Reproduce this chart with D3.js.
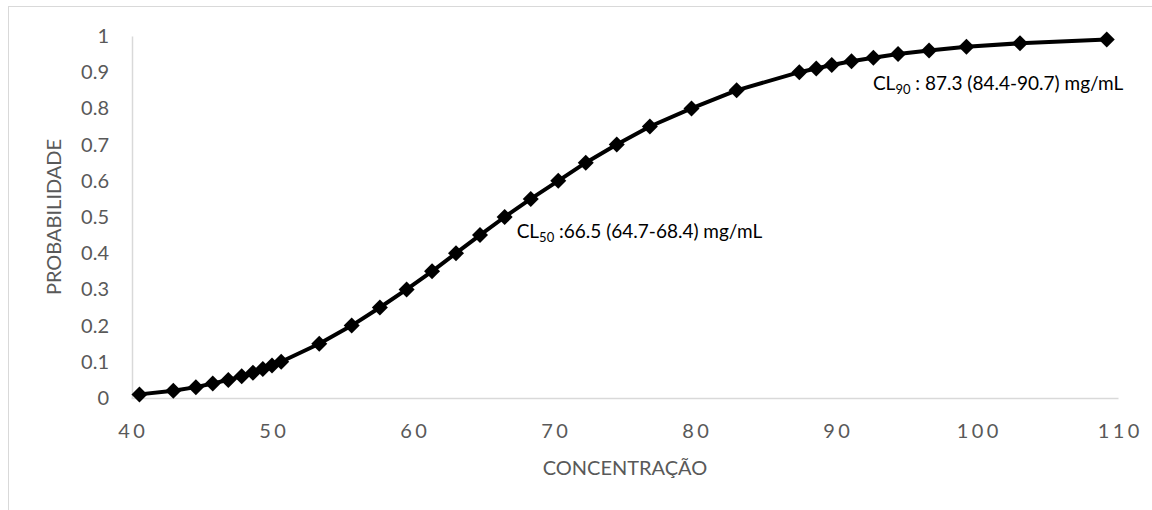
<!DOCTYPE html>
<html>
<head>
<meta charset="utf-8">
<script src="https://cdn.jsdelivr.net/npm/d3@7"></script>
<style>
  body { margin: 0; background: #fff; }
  svg { display: block; font-family: Lato, 'Open Sans', sans-serif; }
  .axis text { fill: #595959; }
</style>
</head>
<body>
<div id="content"></div>
<script>
// concentration (mg/mL) vs probability
var concentracao = [40.6, 43.0, 44.6, 45.8, 46.9, 47.85, 48.65, 49.35, 50.0, 50.65,
                    53.35, 55.65, 57.65, 59.55, 61.35, 63.05, 64.75, 66.5, 68.35, 70.3,
                    72.25, 74.45, 76.8, 79.75, 82.95,
                    87.4, 88.6, 89.7, 91.1, 92.65, 94.4, 96.6, 99.25, 103.05, 109.2];
var probabilidade = [0.01, 0.02, 0.03, 0.04, 0.05, 0.06, 0.07, 0.08, 0.09, 0.10,
                     0.15, 0.20, 0.25, 0.30, 0.35, 0.40, 0.45, 0.50, 0.55, 0.60,
                     0.65, 0.70, 0.75, 0.80, 0.85,
                     0.90, 0.91, 0.92, 0.93, 0.94, 0.95, 0.96, 0.97, 0.98, 0.99];
var xTicks = [40, 50, 60, 70, 80, 90, 100, 110];
var yTicks = [0, 0.1, 0.2, 0.3, 0.4, 0.5, 0.6, 0.7, 0.8, 0.9, 1];
var notes = [
    {base: "CL", sub: "50", rest: " :66.5 (64.7-68.4) mg/mL", cx: 66.5, cy: 0.5},
    {base: "CL", sub: "90", rest: " : 87.3 (84.4-90.7) mg/mL", cx: 87.3, cy: 0.9}
];

var data = concentracao.map(function(c, i) { return {c: c, p: probabilidade[i]}; });

var svg = d3.select("#content").append("svg").attr("width", 1152).attr("height", 510);

// chart frame
svg.append("rect")
    .attr("x", 8.5).attr("y", 6.5)
    .attr("width", 1200).attr("height", 600)
    .attr("fill", "none")
    .attr("stroke", "#d9d9d9");

var x = d3.scaleLinear().domain([40, 110]).range([131, 1118]),
    y = d3.scaleLinear().domain([0, 1]).range([398, 36]);

var fmt = function(d) { return d === 0 || d === 1 ? String(d) : d.toFixed(1); };

var gy = svg.append("g")
    .attr("class", "axis")
    .attr("transform", "translate(" + (x(40) + 1) + ",0)")
    .call(d3.axisLeft(y).tickValues(yTicks).tickSize(0).tickSizeOuter(0).tickPadding(23).tickFormat(fmt));
gy.select(".domain").attr("stroke", "#d9d9d9").attr("stroke-width", 1.5);
gy.selectAll("text").attr("font-size", 20).style("font-family", "Lato, sans-serif");

var gx = svg.append("g")
    .attr("class", "axis")
    .attr("transform", "translate(0," + y(0) + ")")
    .call(d3.axisBottom(x).tickValues(xTicks).tickSize(0).tickSizeOuter(0).tickPadding(26));
gx.select(".domain").attr("stroke", "#d9d9d9").attr("stroke-width", 1.5);
gx.selectAll("text").attr("font-size", 20).style("letter-spacing", "3.5px")
    .attr("dx", "0.09em").style("font-family", "Lato, sans-serif");

// axis titles
svg.append("text")
    .attr("transform", "translate(61," + (y(0.5)) + ") rotate(-90)")
    .attr("text-anchor", "middle")
    .attr("font-size", 20)
    .attr("fill", "#595959")
    .text("PROBABILIDADE");

svg.append("text")
    .attr("x", 625).attr("y", 475)
    .attr("text-anchor", "middle")
    .attr("font-size", 20)
    .attr("fill", "#595959")
    .text("CONCENTRAÇÃO");

// curve
var line = d3.line().x(function(d) { return x(d.c); }).y(function(d) { return y(d.p); });
svg.append("path")
    .datum(data)
    .attr("d", line)
    .attr("fill", "none")
    .attr("stroke", "#000")
    .attr("stroke-width", 4)
    .attr("stroke-linejoin", "round");

var diamond = d3.symbol().type(d3.symbolSquare).size(128);
svg.selectAll(".pt")
    .data(data)
    .enter().append("path")
    .attr("class", "pt")
    .attr("d", diamond)
    .attr("transform", function(d) { return "translate(" + x(d.c) + "," + y(d.p) + ") rotate(45)"; })
    .attr("fill", "#000");

// CL annotations
var offsets = [{dx: 12, dy: 21}, {dx: 75, dy: 18}];
var lab = svg.selectAll(".note")
    .data(notes)
    .enter().append("text")
    .attr("class", "note")
    .attr("x", function(d, i) { return x(d.cx) + offsets[i].dx; })
    .attr("y", function(d, i) { return y(d.cy) + offsets[i].dy; })
    .attr("font-size", 19)
    .attr("fill", "#000");
lab.append("tspan").text(function(d) { return d.base; });
lab.append("tspan").attr("font-size", 13).attr("dy", 4).text(function(d) { return d.sub; });
lab.append("tspan").attr("dy", -4).text(function(d) { return d.rest; });
</script>
</body>
</html>
